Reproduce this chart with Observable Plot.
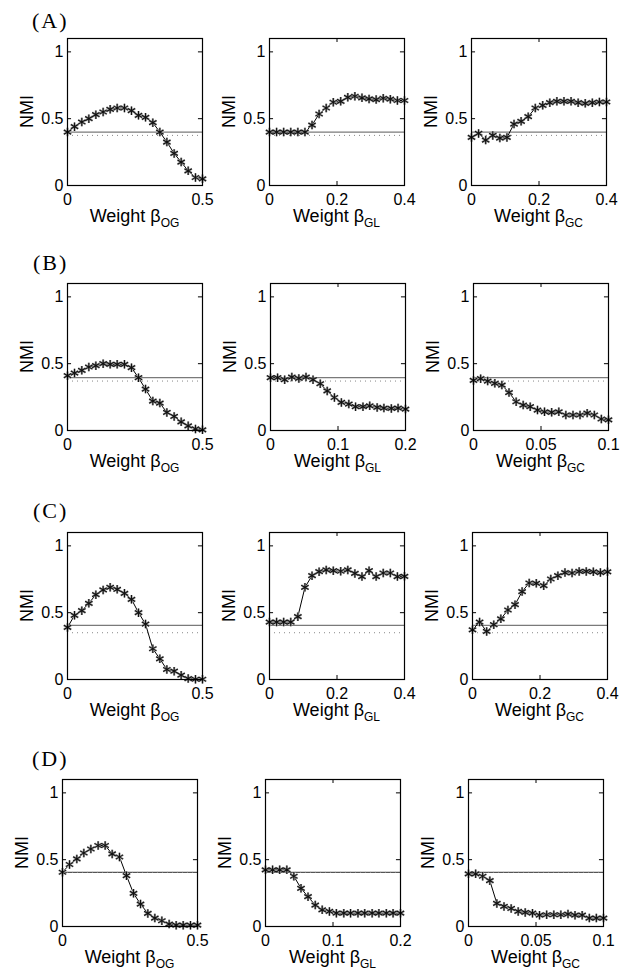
<!DOCTYPE html>
<html><head><meta charset="utf-8">
<script src="https://cdn.jsdelivr.net/npm/d3@7"></script>
<script src="https://cdn.jsdelivr.net/npm/@observablehq/plot@0.6"></script>
<style>
body{margin:0;background:#fff;}
#root{position:relative;width:628px;height:977px;overflow:hidden;}
.plab{position:absolute;font-family:"Liberation Serif","Times New Roman",serif;font-size:22px;letter-spacing:2px;line-height:1;}
.panel{position:absolute;}
</style></head><body><div id="root"></div>
<script>
// ---------- data ----------
const rowLabels = ["(A)", "(B)", "(C)", "(D)"];
const weightSubs = ["OG", "GL", "GC"];

const x05 = [0,.026,.053,.079,.105,.132,.158,.184,.211,.237,.263,.289,.316,.342,.368,.395,.421,.447,.474,.5];
const x04 = [0,.021,.042,.063,.084,.105,.126,.147,.168,.189,.211,.232,.253,.274,.295,.316,.337,.358,.379,.4];
const x02 = [0,.0105,.021,.0316,.042,.0526,.063,.0737,.084,.0947,.105,.116,.126,.137,.147,.158,.168,.179,.189,.2];
const x01 = [0,.0053,.0105,.0158,.021,.0263,.0316,.0368,.042,.0474,.0526,.0579,.0632,.0684,.0737,.0789,.0842,.0895,.0947,.1];

const ticks05 = [0, 0.5];
const ticks04 = [0, 0.2, 0.4];
const ticks02 = [0, 0.1, 0.2];
const ticks01 = [0, 0.05, 0.1];
const yTicks = [0, 0.5, 1];

const A_OG = [0.40,0.44,0.475,0.50,0.53,0.55,0.57,0.58,0.58,0.56,0.525,0.51,0.47,0.40,0.325,0.24,0.175,0.11,0.06,0.05];
const A_GL = [0.40,0.40,0.40,0.40,0.40,0.40,0.452,0.535,0.58,0.623,0.63,0.66,0.668,0.656,0.648,0.643,0.653,0.646,0.636,0.636];
const A_GC = [0.36,0.39,0.34,0.375,0.355,0.36,0.46,0.48,0.515,0.58,0.60,0.62,0.63,0.63,0.63,0.62,0.615,0.62,0.625,0.625];
const B_OG = [0.41,0.43,0.45,0.475,0.485,0.50,0.495,0.495,0.495,0.47,0.395,0.31,0.22,0.205,0.135,0.105,0.065,0.035,0.012,0.005];
const B_GL = [0.395,0.395,0.38,0.40,0.39,0.40,0.38,0.35,0.296,0.247,0.21,0.198,0.178,0.178,0.185,0.173,0.168,0.165,0.168,0.16];
const B_GC = [0.375,0.388,0.37,0.353,0.34,0.284,0.215,0.19,0.178,0.153,0.14,0.136,0.14,0.116,0.116,0.116,0.13,0.116,0.086,0.08];
const C_OG = [0.39,0.48,0.515,0.57,0.635,0.67,0.69,0.675,0.645,0.60,0.50,0.415,0.23,0.155,0.075,0.062,0.032,0.007,0.002,0.002];
const C_GL = [0.43,0.43,0.43,0.43,0.47,0.69,0.777,0.807,0.82,0.814,0.81,0.82,0.794,0.77,0.814,0.77,0.797,0.797,0.77,0.772];
const C_GC = [0.372,0.43,0.36,0.41,0.454,0.52,0.56,0.658,0.722,0.72,0.702,0.752,0.777,0.80,0.797,0.809,0.809,0.806,0.80,0.806];
const D_OG = [0.406,0.464,0.506,0.55,0.58,0.606,0.606,0.543,0.52,0.38,0.248,0.168,0.098,0.063,0.043,0.018,0.01,0.01,0.01,0.01];
const D_GL = [0.424,0.424,0.424,0.424,0.376,0.286,0.223,0.16,0.125,0.113,0.10,0.10,0.10,0.10,0.10,0.10,0.10,0.10,0.10,0.10];
const D_GC = [0.394,0.394,0.376,0.343,0.173,0.15,0.135,0.113,0.105,0.10,0.085,0.088,0.088,0.088,0.093,0.085,0.085,0.063,0.063,0.063];

// reference levels per row: solid line and dotted line
const solidLevel  = [0.40, 0.395, 0.405, 0.405];
const dottedLevel = [0.375, 0.37, 0.35, 0.405];

// ---------- layout ----------
const rows = [
  {ys:[A_OG,A_GL,A_GC], xs:[x05,x04,x04], tk:[ticks05,ticks04,ticks04], xmax:[0.5,0.4,0.4]},
  {ys:[B_OG,B_GL,B_GC], xs:[x05,x02,x01], tk:[ticks05,ticks02,ticks01], xmax:[0.5,0.2,0.1]},
  {ys:[C_OG,C_GL,C_GC], xs:[x05,x04,x04], tk:[ticks05,ticks04,ticks04], xmax:[0.5,0.4,0.4]},
  {ys:[D_OG,D_GL,D_GC], xs:[x05,x02,x01], tk:[ticks05,ticks02,ticks01], xmax:[0.5,0.2,0.1]}
];
const rowTop = [38, 283, 532, 779];
const colLeft = [[67,269,471],[67,270,473],[67,269,472],[62,265,468]];
const labelPos = [[32,28],[33,270],[33,518],[32,766]];
const W = 135, H = 147;
const M = {l:50, r:14, t:8, b:50};
const FONT = "'Liberation Sans', Arial, Helvetica, sans-serif";
const fmt = d => String(d);

const root = document.getElementById("root");

rowLabels.forEach((lab, r) => {
  const d = document.createElement("div");
  d.className = "plab";
  d.textContent = lab;
  d.style.left = labelPos[r][0] + "px";
  d.style.top = (labelPos[r][1] - 18) + "px";
  root.appendChild(d);
});

rows.forEach((row, r) => {
  for (let c = 0; c < 3; c++) {
    const xs = row.xs[c], ys = row.ys[c], xmax = row.xmax[c], xt = row.tk[c];
    const pts = xs.map((x, i) => ({x, y: ys[i]}));
    const ytl = 0.03, xtl = xmax * 0.03;
    const svg = Plot.plot({
      width: W + M.l + M.r, height: H + M.t + M.b,
      marginLeft: M.l, marginRight: M.r, marginTop: M.t, marginBottom: M.b,
      x: {domain: [0, xmax]},
      y: {domain: [0, 1.1]},
      style: {fontFamily: FONT, fontSize: "16px", color: "#000", background: "transparent", overflow: "visible"},
      marks: [
        Plot.ruleY([solidLevel[r]], {stroke: r === 3 ? "#555" : "#7a7a7a", strokeWidth: 1.3}),
        Plot.ruleY([dottedLevel[r]], {stroke: "#888", strokeWidth: 1, strokeDasharray: "1,4"}),
        Plot.line(pts, {x: "x", y: "y", stroke: "#000", strokeWidth: 1}),
        Plot.dot(pts, {x: "x", y: "y", symbol: "asterisk", r: 4, stroke: "#a0a0a0", strokeWidth: 2.2}),
        Plot.dot(pts, {x: "x", y: "y", symbol: "asterisk", r: 4, stroke: "#111", strokeWidth: 1.1}),
        // inward ticks (MATLAB style) on all four sides
        Plot.ruleX(xt, {y1: 0, y2: ytl, stroke: "#000"}),
        Plot.ruleX(xt, {y1: 1.1 - ytl, y2: 1.1, stroke: "#000"}),
        Plot.ruleY(yTicks, {x1: 0, x2: xtl, stroke: "#000"}),
        Plot.ruleY(yTicks, {x1: xmax - xtl, x2: xmax, stroke: "#000"}),
        Plot.frame({stroke: "#000", strokeWidth: 1.2}),
        Plot.axisX(xt, {tickSize: 0, tickPadding: 8, label: null, fontSize: 16, fill: "#000", tickFormat: fmt}),
        Plot.axisY(yTicks, {tickSize: 0, tickPadding: 4, label: null, fontSize: 16, fill: "#000", tickFormat: fmt})
      ]
    });
    const s = d3.select(svg);
    s.append("text")
      .attr("transform", `translate(${M.l - 34},${M.t + H / 2}) rotate(-90)`)
      .attr("text-anchor", "middle")
      .attr("font-size", 18).attr("font-family", FONT).attr("fill", "#000")
      .text("NMI");
    const t = s.append("text")
      .attr("x", M.l + W / 2).attr("y", M.t + H + 37)
      .attr("text-anchor", "middle")
      .attr("font-size", 18).attr("font-family", FONT).attr("fill", "#000");
    t.append("tspan").text("Weight \u03B2");
    t.append("tspan").attr("font-size", 12).attr("dy", 5).text(weightSubs[c]);
    const wrap = document.createElement("div");
    wrap.className = "panel";
    wrap.style.left = (colLeft[r][c] - M.l) + "px";
    wrap.style.top = (rowTop[r] - M.t) + "px";
    wrap.appendChild(svg);
    root.appendChild(wrap);
  }
});
</script>
</body></html>
